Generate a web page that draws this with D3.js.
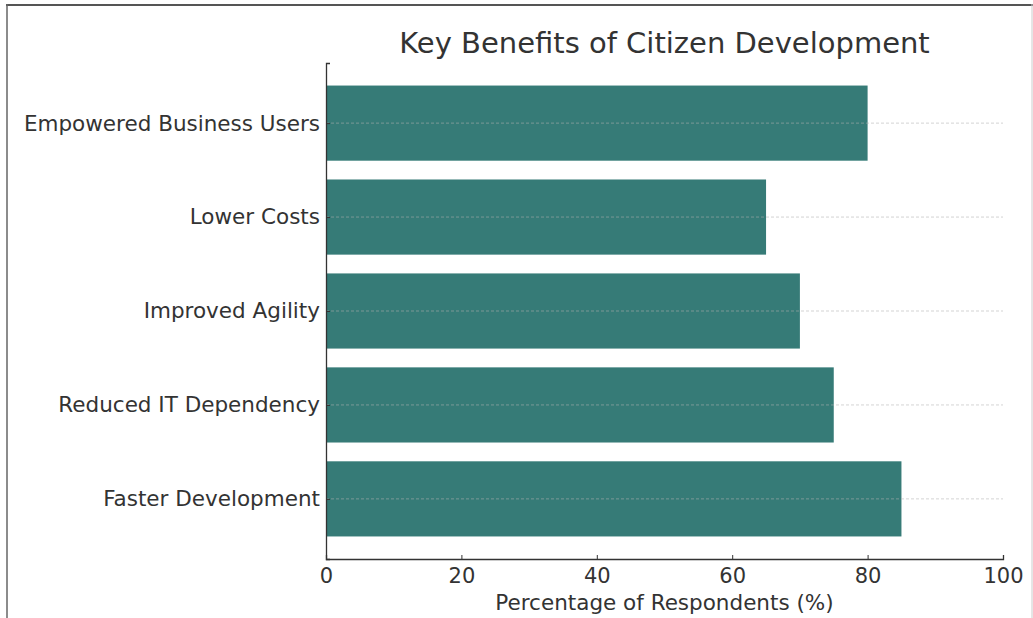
<!DOCTYPE html>
<html>
<head>
<meta charset="utf-8">
<script src="https://cdn.jsdelivr.net/npm/d3@7"></script>
<style>
  body { margin: 0; background: #fff; }
  svg { display: block; font-family: "DejaVu Sans", sans-serif; }
</style>
</head>
<body>
<svg id="chart" width="1033" height="618"></svg>
<script>
// data
var benefits = ["Faster Development", "Reduced IT Dependency", "Improved Agility", "Lower Costs", "Empowered Business Users"];
var respondents = [85, 75, 70, 65, 80];
var xTicks = [0, 20, 40, 60, 80, 100];

var svg = d3.select("#chart");
var plotLeft = 326, plotRight = 1003, plotTop = 63, plotBottom = 559;
var textColor = "#333";

// frame around picture
svg.append("line").attr("x1", 6).attr("x2", 1033).attr("y1", 5).attr("y2", 5)
  .attr("stroke", "#555").attr("stroke-width", 2);
svg.append("line").attr("x1", 7).attr("x2", 7).attr("y1", 4).attr("y2", 618)
  .attr("stroke", "#666").attr("stroke-width", 1.5);
svg.append("line").attr("x1", 1032).attr("x2", 1032).attr("y1", 4).attr("y2", 618)
  .attr("stroke", "#ccc").attr("stroke-width", 1);

var x = d3.scaleLinear().domain([0, 100]).range([plotLeft, plotRight]);
// matplotlib-like margins around bar centers (height 0.8)
var y = d3.scaleLinear().domain([-0.64, 4.64]).range([plotBottom, plotTop]);
var barH = y(0) - y(0.8);

// bars
svg.append("g").selectAll("rect")
  .data(benefits)
  .enter().append("rect")
    .attr("x", x(0))
    .attr("y", function(d, i) { return y(i + 0.4); })
    .attr("width", function(d, i) { return x(respondents[i]) - x(0); })
    .attr("height", barH)
    .attr("fill", "#367b77");

// dashed gridlines on top of bars
svg.append("g").selectAll("line")
  .data(benefits)
  .enter().append("line")
    .attr("x1", plotLeft).attr("x2", plotRight)
    .attr("y1", function(d, i) { return y(i); })
    .attr("y2", function(d, i) { return y(i); })
    .attr("stroke", "#b0b0b0")
    .attr("stroke-opacity", 0.7)
    .attr("stroke-width", 0.8)
    .attr("stroke-dasharray", "3,2");

// x axis
var xAxis = svg.append("g")
  .attr("transform", "translate(0," + plotBottom + ")")
  .call(d3.axisBottom(x).tickValues(xTicks).tickSize(-4).tickPadding(9).tickFormat(d3.format("d")));
xAxis.select(".domain").attr("stroke", "#333").attr("stroke-width", 1.3);
xAxis.selectAll(".tick line").attr("stroke", "#333");
xAxis.selectAll("text").attr("fill", textColor).attr("font-size", 21)
  .attr("font-family", "DejaVu Sans, sans-serif");

// y axis
var yAxis = svg.append("g")
  .attr("transform", "translate(" + plotLeft + ",0)")
  .call(d3.axisLeft(y).tickValues(d3.range(benefits.length)).tickSize(-4).tickPadding(6)
    .tickFormat(function(i) { return benefits[i]; }));
yAxis.select(".domain").attr("stroke", "#333").attr("stroke-width", 1.3);
yAxis.selectAll(".tick line").attr("stroke", "#333");
yAxis.selectAll("text").attr("fill", textColor).attr("font-size", 21.5)
  .attr("font-family", "DejaVu Sans, sans-serif");

// title and axis label
svg.append("text")
  .attr("x", (plotLeft + plotRight) / 2).attr("y", 53)
  .attr("text-anchor", "middle")
  .attr("font-size", 29)
  .attr("fill", textColor)
  .text("Key Benefits of Citizen Development");

svg.append("text")
  .attr("x", (plotLeft + plotRight) / 2).attr("y", 610)
  .attr("text-anchor", "middle")
  .attr("font-size", 21.5)
  .attr("fill", textColor)
  .text("Percentage of Respondents (%)");
</script>
</body>
</html>
